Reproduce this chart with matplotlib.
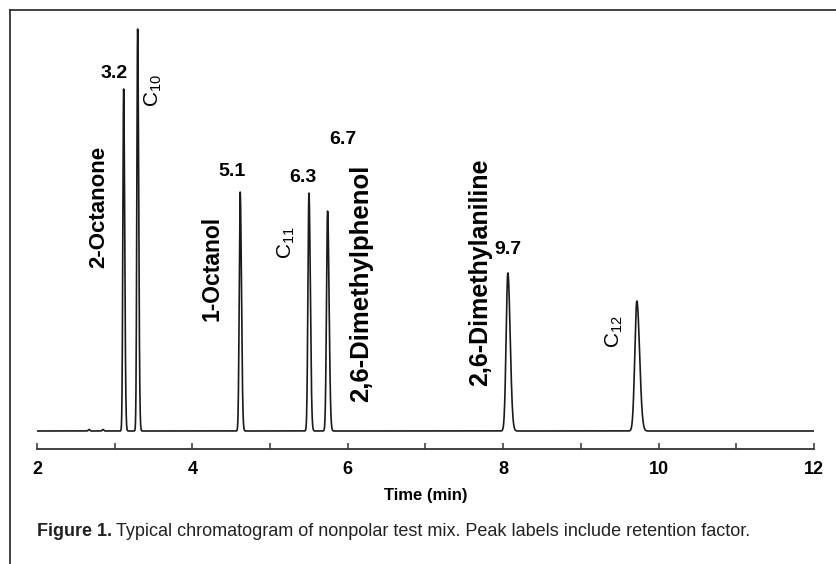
import numpy as np
import matplotlib.pyplot as plt
from matplotlib.lines import Line2D
from matplotlib import font_manager

# Peak table (time in min, height in detector units)
peak_names = ["2-Octanone", "C10", "1-Octanol", "C11", "2,6-Dimethylphenol", "2,6-Dimethylaniline", "C12"]
peak_times = [3.115, 3.295, 4.615, 5.50, 5.74, 8.06, 9.72]
peak_heights = [342, 402, 239, 238, 220, 158, 130]
peak_sigmas = [0.010, 0.010, 0.012, 0.013, 0.014, 0.022, 0.026]

# small baseline disturbances before the first peak
bump_times = [2.67, 2.85]
bump_heights = [1.5, 1.5]

k_values = ["3.2", "5.1", "6.3", "6.7", "9.7"]

x_ticks = [2, 4, 6, 8, 10, 12]

names = {f.name for f in font_manager.fontManager.ttflist}
narrow = "Liberation Sans Narrow" if "Liberation Sans Narrow" in names else "Liberation Sans"

W, H = 837, 564
fig = plt.figure(figsize=(W / 100, H / 100), dpi=100)

def fx(px):
    return px / W

def fy(py):
    return 1 - py / H

ax = fig.add_axes([fx(37), fy(449), fx(814) - fx(37), fy(10) - fy(449)])

t = np.linspace(2, 12, 6000)
signal = np.zeros_like(t)
for tr, h, s in zip(peak_times, peak_heights, peak_sigmas):
    sig = np.where(t < tr, s, s * 1.35)   # slight tailing
    signal += h * np.exp(-0.5 * ((t - tr) / sig) ** 2)
for tr, h in zip(bump_times, bump_heights):
    signal += h * np.exp(-0.5 * ((t - tr) / 0.01) ** 2)

ax.plot(t, signal, color="#1a1a1a", lw=1.2)

ax.set_xlim(2, 12)
ax.set_ylim(-18, 421)
for s in ["top", "left", "right"]:
    ax.spines[s].set_visible(False)
ax.spines["bottom"].set_color("#333333")
ax.spines["bottom"].set_linewidth(1.3)
ax.set_yticks([])
ax.set_xticks(x_ticks)
ax.set_xticks([3, 5, 7, 9, 11], minor=True)
ax.tick_params(axis="x", which="both", direction="in", length=4, width=1.1, color="#333333", pad=9)
for lab in ax.get_xticklabels():
    lab.set_fontfamily(narrow)
    lab.set_fontweight("bold")
    lab.set_fontsize(13)
ax.set_xlabel("Time (min)", fontfamily=narrow, fontweight="bold", fontsize=12, labelpad=7)

# text positions given in pixel coordinates of the figure
def label(px, py, s, rot=0, size=17, weight="bold"):
    fig.text(fx(px), fy(py), s, rotation=rot, ha="center", va="center",
             fontsize=size, fontweight=weight, fontfamily="Liberation Sans")

label(99, 207, peak_names[0], rot=90, size=16)
label(153, 90, r"C$\mathregular{_{10}}$", rot=90, size=15, weight="normal")
label(212, 268, peak_names[2], rot=90, size=16.5)
label(286, 243, r"C$\mathregular{_{11}}$", rot=90, size=15, weight="normal")
label(361, 283, peak_names[4], rot=90, size=18.5)
label(480, 272, peak_names[5], rot=90, size=18)
label(614, 332, r"C$\mathregular{_{12}}$", rot=90, size=15, weight="normal")

label(114, 74, k_values[0], size=14)
label(232, 172, k_values[1], size=14)
label(303, 178, k_values[2], size=14)
label(343, 140, k_values[3], size=14)
label(508, 250, k_values[4], size=14)

# caption
cap_y = fy(531)
t1 = fig.text(fx(37), cap_y, "Figure 1.", ha="left", va="center", fontsize=13,
              fontweight="bold", fontfamily=narrow, color="#222222")
fig.canvas.draw()
bb = t1.get_window_extent()
fig.text((bb.x1 + 4) / W, cap_y, "Typical chromatogram of nonpolar test mix. Peak labels include retention factor.",
         ha="left", va="center", fontsize=13, fontfamily=narrow, color="#222222")

# partial frame around the figure
fig.add_artist(Line2D([fx(10), 1], [fy(10), fy(10)], color="#333333", lw=1.3))
fig.add_artist(Line2D([fx(10), fx(10)], [fy(10), 0], color="#333333", lw=1.3))

fig.savefig("out.png", dpi=100)
